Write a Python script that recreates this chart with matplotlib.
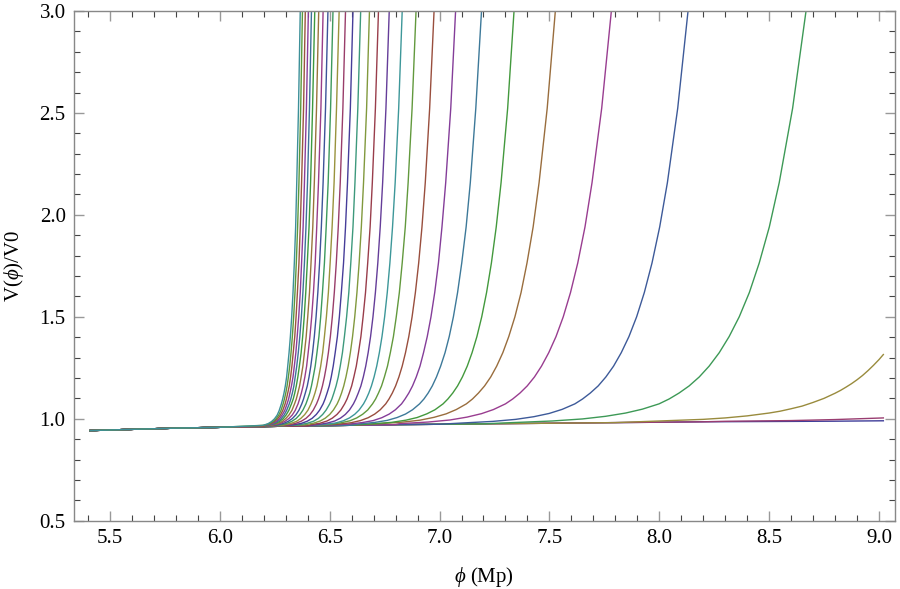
import colorsys
import matplotlib
matplotlib.use('Agg')
import matplotlib.pyplot as plt
from matplotlib.ticker import MultipleLocator, FormatStrFormatter

plt.rcParams['font.family'] = ['Liberation Serif', 'DejaVu Serif']
plt.rcParams['mathtext.fontset'] = 'custom'
plt.rcParams['mathtext.rm'] = 'Liberation Serif'
plt.rcParams['mathtext.it'] = 'Liberation Serif:italic'

# common flat part shared by all curves
BASE_PHI = [5.41, 5.6, 5.8, 6.0, 6.2, 6.4, 6.6, 6.8, 7.0, 7.2, 7.4, 7.6, 7.8,
            8.0, 8.2, 8.4, 8.6, 8.8, 9.02]
BASE_V = [0.942, 0.948, 0.954, 0.958, 0.962, 0.965, 0.968, 0.971, 0.973, 0.975,
          0.977, 0.979, 0.981, 0.983, 0.985, 0.986, 0.987, 0.988, 0.990]

# the two slowly rising curves (index 1 and 2)
FLAT1_PHI = [8.3, 8.6, 8.8, 9.02]
FLAT1_V = [0.9875, 0.991, 0.996, 1.004]
FLAT2_PHI = [8.0, 8.2, 8.3, 8.4, 8.5, 8.55, 8.6, 8.65, 8.7, 8.75, 8.8, 8.825,
             8.85, 8.875, 8.9, 8.925, 8.95, 8.975, 9.0, 9.02]
FLAT2_V = [0.989, 0.997, 1.004, 1.014, 1.028, 1.037, 1.049, 1.062, 1.080, 1.100,
           1.125, 1.139, 1.155, 1.172, 1.191, 1.212, 1.236, 1.262, 1.290, 1.315]

# steep curves, index 3 .. 29: phi where each curve crosses these V levels
LEVELS_V = [3.0, 2.523, 2.158, 1.941, 1.764, 1.619, 1.5, 1.403, 1.324, 1.258,
            1.205, 1.161, 1.126, 1.097, 1.073]
STEEP_PHI = [
    [8.668, 8.607, 8.546, 8.501, 8.455, 8.410, 8.364, 8.318, 8.273, 8.227, 8.182, 8.136, 8.090, 8.045, 7.999],
    [8.131, 8.084, 8.037, 8.002, 7.967, 7.932, 7.897, 7.862, 7.827, 7.792, 7.757, 7.722, 7.686, 7.651, 7.616],
    [7.782, 7.738, 7.694, 7.662, 7.629, 7.596, 7.563, 7.530, 7.497, 7.464, 7.432, 7.399, 7.366, 7.333, 7.300],
    [7.527, 7.490, 7.453, 7.426, 7.398, 7.371, 7.343, 7.315, 7.288, 7.260, 7.233, 7.205, 7.177, 7.150, 7.122],
    [7.339, 7.310, 7.280, 7.258, 7.236, 7.214, 7.192, 7.170, 7.148, 7.126, 7.104, 7.082, 7.060, 7.038, 7.016],
    [7.191, 7.165, 7.140, 7.121, 7.101, 7.082, 7.063, 7.044, 7.025, 7.005, 6.986, 6.967, 6.948, 6.929, 6.909],
    [7.073, 7.051, 7.028, 7.011, 6.995, 6.978, 6.961, 6.944, 6.927, 6.911, 6.894, 6.877, 6.860, 6.843, 6.827],
    [6.975, 6.955, 6.935, 6.920, 6.905, 6.890, 6.875, 6.860, 6.845, 6.830, 6.815, 6.800, 6.785, 6.770, 6.755],
    [6.893, 6.875, 6.857, 6.844, 6.830, 6.817, 6.803, 6.790, 6.776, 6.763, 6.749, 6.736, 6.722, 6.709, 6.695],
    [6.830, 6.814, 6.798, 6.786, 6.774, 6.762, 6.750, 6.738, 6.726, 6.714, 6.702, 6.690, 6.678, 6.666, 6.654],
    [6.771, 6.756, 6.741, 6.730, 6.719, 6.708, 6.697, 6.686, 6.675, 6.664, 6.653, 6.642, 6.630, 6.619, 6.608],
    [6.722, 6.708, 6.694, 6.684, 6.673, 6.663, 6.652, 6.642, 6.631, 6.621, 6.610, 6.600, 6.589, 6.579, 6.568],
    [6.681, 6.668, 6.654, 6.644, 6.634, 6.624, 6.614, 6.604, 6.594, 6.584, 6.574, 6.564, 6.554, 6.544, 6.534],
    [6.641, 6.628, 6.615, 6.606, 6.596, 6.587, 6.577, 6.567, 6.558, 6.548, 6.539, 6.529, 6.519, 6.510, 6.500],
    [6.606, 6.594, 6.581, 6.572, 6.563, 6.553, 6.544, 6.535, 6.525, 6.516, 6.507, 6.498, 6.488, 6.479, 6.470],
    [6.572, 6.560, 6.548, 6.539, 6.530, 6.521, 6.512, 6.503, 6.494, 6.485, 6.476, 6.467, 6.458, 6.449, 6.440],
    [6.543, 6.531, 6.520, 6.511, 6.502, 6.494, 6.485, 6.476, 6.468, 6.459, 6.450, 6.442, 6.433, 6.424, 6.415],
    [6.515, 6.504, 6.493, 6.484, 6.476, 6.467, 6.459, 6.451, 6.442, 6.434, 6.425, 6.417, 6.409, 6.400, 6.392],
    [6.492, 6.481, 6.470, 6.462, 6.454, 6.446, 6.438, 6.430, 6.422, 6.414, 6.406, 6.398, 6.389, 6.381, 6.373],
    [6.470, 6.460, 6.449, 6.441, 6.434, 6.426, 6.418, 6.410, 6.402, 6.395, 6.387, 6.379, 6.371, 6.363, 6.356],
    [6.450, 6.440, 6.430, 6.423, 6.415, 6.408, 6.400, 6.393, 6.385, 6.378, 6.370, 6.363, 6.355, 6.348, 6.340],
    [6.432, 6.422, 6.413, 6.406, 6.398, 6.391, 6.384, 6.377, 6.370, 6.362, 6.355, 6.348, 6.341, 6.334, 6.326],
    [6.417, 6.408, 6.399, 6.392, 6.385, 6.378, 6.371, 6.364, 6.357, 6.350, 6.343, 6.337, 6.330, 6.323, 6.316],
    [6.403, 6.394, 6.385, 6.379, 6.372, 6.366, 6.359, 6.352, 6.346, 6.339, 6.333, 6.326, 6.319, 6.313, 6.306],
    [6.389, 6.381, 6.372, 6.366, 6.360, 6.353, 6.347, 6.341, 6.334, 6.328, 6.322, 6.316, 6.309, 6.303, 6.297],
    [6.376, 6.368, 6.360, 6.354, 6.348, 6.342, 6.336, 6.330, 6.324, 6.318, 6.312, 6.306, 6.300, 6.294, 6.288],
    [6.366, 6.358, 6.350, 6.345, 6.339, 6.333, 6.327, 6.321, 6.315, 6.309, 6.304, 6.298, 6.292, 6.286, 6.280],
]
# knee of each steep curve, where it bends into the flat part
TAIL_PHI = [
    [7.923, 7.847, 7.756, 7.650, 7.513, 7.330],
    [7.558, 7.499, 7.429, 7.347, 7.242, 7.101],
    [7.245, 7.191, 7.125, 7.048, 6.950, 6.818],
    [7.076, 7.030, 6.975, 6.911, 6.828, 6.717],
    [6.979, 6.942, 6.898, 6.847, 6.780, 6.692],
    [6.877, 6.845, 6.807, 6.762, 6.705, 6.628],
    [6.799, 6.771, 6.737, 6.698, 6.647, 6.580],
    [6.730, 6.705, 6.675, 6.640, 6.595, 6.535],
    [6.673, 6.650, 6.623, 6.592, 6.551, 6.497],
    [6.634, 6.614, 6.590, 6.562, 6.526, 6.478],
    [6.590, 6.571, 6.549, 6.523, 6.490, 6.445],
    [6.551, 6.533, 6.512, 6.488, 6.456, 6.414],
    [6.517, 6.500, 6.480, 6.457, 6.426, 6.386],
    [6.484, 6.468, 6.449, 6.427, 6.398, 6.359],
    [6.454, 6.439, 6.420, 6.398, 6.370, 6.333],
    [6.425, 6.410, 6.392, 6.371, 6.344, 6.308],
    [6.401, 6.386, 6.369, 6.349, 6.323, 6.288],
    [6.378, 6.364, 6.347, 6.327, 6.302, 6.269],
    [6.360, 6.346, 6.330, 6.311, 6.287, 6.254],
    [6.343, 6.330, 6.314, 6.296, 6.272, 6.241],
    [6.328, 6.315, 6.300, 6.283, 6.260, 6.230],
    [6.314, 6.302, 6.288, 6.271, 6.250, 6.221],
    [6.304, 6.293, 6.279, 6.263, 6.242, 6.215],
    [6.295, 6.284, 6.271, 6.256, 6.236, 6.209],
    [6.286, 6.276, 6.263, 6.248, 6.229, 6.204],
    [6.278, 6.268, 6.256, 6.242, 6.224, 6.200],
    [6.270, 6.261, 6.249, 6.235, 6.218, 6.194],
]
TAIL_V = [
    [1.047, 1.028, 1.012, 0.999, 0.989, 0.981],
    [1.046, 1.026, 1.010, 0.997, 0.987, 0.979],
    [1.045, 1.025, 1.008, 0.994, 0.984, 0.976],
    [1.045, 1.024, 1.007, 0.993, 0.983, 0.975],
    [1.044, 1.024, 1.006, 0.993, 0.982, 0.975],
    [1.044, 1.023, 1.006, 0.992, 0.982, 0.974],
    [1.044, 1.023, 1.005, 0.991, 0.981, 0.973],
    [1.044, 1.023, 1.005, 0.991, 0.980, 0.973],
    [1.043, 1.022, 1.004, 0.990, 0.980, 0.972],
    [1.043, 1.022, 1.004, 0.990, 0.979, 0.972],
    [1.043, 1.021, 1.003, 0.989, 0.979, 0.971],
    [1.043, 1.021, 1.003, 0.989, 0.978, 0.971],
    [1.043, 1.021, 1.003, 0.989, 0.978, 0.970],
    [1.043, 1.021, 1.002, 0.988, 0.978, 0.970],
    [1.042, 1.021, 1.002, 0.988, 0.977, 0.970],
    [1.042, 1.020, 1.002, 0.988, 0.977, 0.969],
    [1.042, 1.020, 1.002, 0.987, 0.977, 0.969],
    [1.042, 1.020, 1.001, 0.987, 0.976, 0.969],
    [1.042, 1.019, 1.001, 0.987, 0.976, 0.969],
    [1.041, 1.019, 1.001, 0.987, 0.976, 0.968],
    [1.041, 1.019, 1.001, 0.986, 0.976, 0.968],
    [1.041, 1.019, 1.000, 0.986, 0.976, 0.968],
    [1.041, 1.019, 1.000, 0.986, 0.975, 0.968],
    [1.040, 1.019, 1.000, 0.986, 0.975, 0.968],
    [1.040, 1.019, 1.000, 0.986, 0.975, 0.968],
    [1.040, 1.018, 1.000, 0.986, 0.975, 0.968],
    [1.040, 1.018, 1.000, 0.986, 0.975, 0.967],
]


def curve_color(k):
    # Mathematica-style default plot colours
    h = (0.67 + 0.236068 * k) % 1.0
    return colorsys.hsv_to_rgb(h, 0.6, 0.6)


def with_base(phi, v):
    bp = [p for p in BASE_PHI if p < phi[0]]
    bv = BASE_V[:len(bp)]
    return bp + list(phi), bv + list(v)


fig = plt.figure(figsize=(9, 5.89), dpi=100)
ax = fig.add_axes([0.0822, 0.116, 0.9122, 0.8653])

lw = 1.0
ax.plot(BASE_PHI, BASE_V, color=curve_color(0), lw=lw)
x, y = with_base(FLAT1_PHI, FLAT1_V)
ax.plot(x, y, color=curve_color(1), lw=lw)
x, y = with_base(FLAT2_PHI, FLAT2_V)
ax.plot(x, y, color=curve_color(2), lw=lw, solid_joinstyle='round')

for i in range(len(STEEP_PHI)):
    phi = TAIL_PHI[i][::-1] + STEEP_PHI[i][::-1]
    v = TAIL_V[i][::-1] + LEVELS_V[::-1]
    x, y = with_base(phi, v)
    ax.plot(x, y, color=curve_color(i + 3), lw=lw, solid_joinstyle='round')

ax.set_xlim(5.3361, 9.0728)
ax.set_ylim(0.5, 3.0)

ax.xaxis.set_major_locator(MultipleLocator(0.5))
ax.xaxis.set_minor_locator(MultipleLocator(0.1))
ax.yaxis.set_major_locator(MultipleLocator(0.5))
ax.yaxis.set_minor_locator(MultipleLocator(0.1))
ax.xaxis.set_major_formatter(FormatStrFormatter('%.1f'))
ax.yaxis.set_major_formatter(FormatStrFormatter('%.1f'))

ax.tick_params(which='both', direction='in', top=True, right=True,
               labelsize=15, pad=6)
ax.tick_params(which='major', length=7, width=1.0, color='#999999')
ax.tick_params(which='minor', length=4, width=0.8, color='#444444')
for s in ax.spines.values():
    s.set_color('#888888')
    s.set_linewidth(1.0)

ax.set_xlabel(r'$\it{\phi}$ (Mp)', fontsize=15, labelpad=12)
ax.set_ylabel(r'V($\it{\phi}$)/V0', fontsize=15, labelpad=10)

fig.savefig('out.png', dpi=100)
